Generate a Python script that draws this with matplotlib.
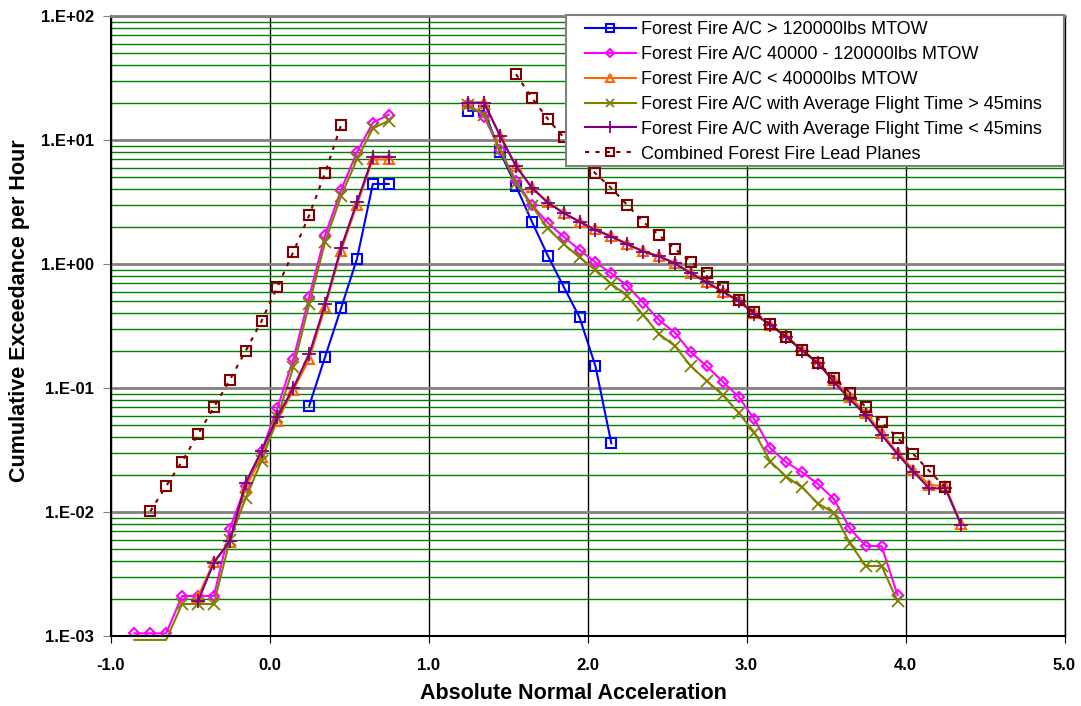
import numpy as np
import matplotlib
matplotlib.use("Agg")
import matplotlib.pyplot as plt
from matplotlib.patches import Rectangle
from matplotlib.ticker import FixedLocator, FuncFormatter, NullFormatter

plt.rcParams["font.family"] = ["Liberation Sans", "DejaVu Sans"]

nan = np.nan

# x positions of the two groups of points (bin centres)
x_left = [-0.85, -0.75, -0.65, -0.55, -0.45, -0.35, -0.25, -0.15, -0.05,
          0.05, 0.15, 0.25, 0.35, 0.45, 0.55, 0.65, 0.75]
x_right = [1.25, 1.35, 1.45, 1.55, 1.65, 1.75, 1.85, 1.95, 2.05, 2.15, 2.25,
           2.35, 2.45, 2.55, 2.65, 2.75, 2.85, 2.95, 3.05, 3.15, 3.25, 3.35,
           3.45, 3.55, 3.65, 3.75, 3.85, 3.95, 4.05, 4.15, 4.25, 4.35]

labels = [
    "Forest Fire A/C > 120000lbs MTOW",
    "Forest Fire A/C 40000 - 120000lbs MTOW",
    "Forest Fire A/C < 40000lbs MTOW",
    "Forest Fire A/C with Average Flight Time > 45mins",
    "Forest Fire A/C with Average Flight Time < 45mins",
    "Combined Forest Fire Lead Planes",
]

heavy_left = [nan] * 11 + [0.072, 0.179, 0.44, 1.10, 4.42, 4.42]
heavy_right = [17.2, 17.2, 8.0, 4.26, 2.2, 1.17, 0.656, 0.371, 0.150, 0.0358] + [nan] * 22

mid_left = [1.05e-3, 1.05e-3, 1.05e-3, 2.1e-3, 2.1e-3, 2.1e-3, 7.3e-3, 0.0162, 0.031,
            0.069, 0.171, 0.545, 1.71, 3.95, 7.96, 13.8, 16.0]
mid_right = [19.5, 15.4, 8.3, 4.7, 3.0, 2.15, 1.66, 1.30, 1.03, 0.84, 0.668, 0.488,
             0.353, 0.279, 0.194, 0.150, 0.1125, 0.0851, 0.0558, 0.0326, 0.0252,
             0.0209, 0.0168, 0.0127, 0.00738, 0.00532, 0.0053, 0.00214] + [nan] * 4

light_left = [nan] * 4 + [2.07e-3, 3.98e-3, 5.76e-3, 0.0158, 0.0279, 0.0545, 0.0964,
                          0.171, 0.453, 1.28, 3.0, 6.98, 6.98]
light_right = [20.0, 20.0, 10.8, 6.2, 4.15, 3.15, 2.6, 2.2, 1.9, 1.68, 1.46, 1.27,
               1.16, 1.02, 0.85, 0.72, 0.60, 0.51, 0.40, 0.325, 0.26, 0.202, 0.16,
               0.115, 0.085, 0.063, 0.0435, 0.030, 0.022, 0.0165, 0.0162, 0.0080]

long_left = [9.3e-4, 9.3e-4, 9.3e-4, 1.81e-3, 1.81e-3, 1.81e-3, 5.9e-3, 0.0129, 0.0258,
             0.058, 0.147, 0.475, 1.51, 3.53, 6.98, 12.4, 14.3]
long_right = [19.0, 16.0, 8.3, 4.5, 2.95, 1.94, 1.45, 1.13, 0.895, 0.69, 0.552, 0.388,
              0.272, 0.218, 0.150, 0.114, 0.0879, 0.0632, 0.0437, 0.0255, 0.0193,
              0.0158, 0.0117, 0.00986, 0.0056, 0.00367, 0.00367, 0.0019] + [nan] * 4

short_left = [nan] * 4 + [1.9e-3, 3.9e-3, 5.8e-3, 0.0172, 0.0312, 0.0587, 0.1005,
                          0.188, 0.475, 1.35, 3.15, 7.33, 7.33]
short_right = [20.0, 20.0, 10.8, 6.17, 4.12, 3.12, 2.57, 2.19, 1.88, 1.66, 1.44, 1.26,
               1.15, 1.01, 0.84, 0.71, 0.598, 0.503, 0.395, 0.322, 0.257, 0.200,
               0.158, 0.112, 0.081, 0.0605, 0.0418, 0.0292, 0.0211, 0.0155, 0.0155,
               0.00785]

lead_left = [nan, 0.0101, 0.0162, 0.0255, 0.0423, 0.0699, 0.116, 0.199, 0.347, 0.656,
             1.25, 2.48, 5.44, 13.2, nan, nan, nan]
lead_right = [nan, nan, nan, 34.0, 21.9, 14.8, 10.5, 7.5, 5.38, 4.08, 2.99, 2.19, 1.71,
              1.32, 1.04, 0.84, 0.649, 0.513, 0.408, 0.326, 0.259, 0.202, 0.158, 0.121,
              0.0917, 0.0706, 0.0529, 0.0397, 0.0292, 0.0214, 0.0158, nan]


def main():
    W, H = 1081, 706
    fig = plt.figure(figsize=(W / 100, H / 100), dpi=100)
    ax = fig.add_axes([110.5 / W, 1 - 636 / H, 954 / W, 620 / H])

    x_all = x_left + [nan] + x_right
    n_all = len(x_all)
    series = [
        (heavy_left, heavy_right, dict(color="#0000FF", marker="s", ms=7, ls="-")),
        (mid_left, mid_right, dict(color="#FF00FF", marker="D", ms=5, ls="-")),
        (light_left, light_right, dict(color="#FF6600", marker="^", ms=7, ls="-")),
        # points below the axis floor show only as a line, like the original
        (long_left, long_right, dict(color="#808000", marker="x", ms=8, ls="-", mew=1.3,
                                     markevery=list(range(3, n_all)), clip_on=False)),
        (short_left, short_right, dict(color="#800080", marker="+", ms=10, ls="-", mew=1.3)),
        (lead_left, lead_right, dict(color="#800000", marker="s", ms=7, ls=(0, (2, 3)))),
    ]
    handles = []
    for (yl, yr, st), lab in zip(series, labels):
        y_all = yl + [nan] + yr
        h, = ax.plot(x_all, y_all, label=lab, lw=1.5, mfc="none",
                     mew=st.pop("mew", 1.5), **st)
        handles.append(h)

    ax.set_yscale("log")
    ax.set_ylim(1e-3, 1e2)
    ax.set_xlim(-1.0, 5.0)

    ax.xaxis.set_major_locator(FixedLocator(np.arange(-1.0, 5.01, 1.0)))
    ax.xaxis.set_major_formatter(FuncFormatter(lambda v, p: f"{v:.1f}"))
    ax.yaxis.set_major_locator(FixedLocator([1e-3, 1e-2, 1e-1, 1e0, 1e1, 1e2]))
    ax.yaxis.set_major_formatter(
        FuncFormatter(lambda v, p: "1.E{:+03d}".format(int(round(np.log10(v))))))
    minors = [m * 10.0 ** e for e in range(-3, 2) for m in range(2, 10)]
    ax.yaxis.set_minor_locator(FixedLocator(minors))
    ax.yaxis.set_minor_formatter(NullFormatter())

    ax.grid(True, which="minor", axis="y", color="#008000", lw=1.0)
    ax.grid(True, which="major", axis="y", color="#808080", lw=2.0)
    ax.grid(True, which="major", axis="x", color="black", lw=1.0)
    ax.set_axisbelow(True)

    ax.tick_params(axis="x", which="major", direction="out", length=5,
                   color="black", labelsize=12, pad=11)
    ax.tick_params(axis="y", which="major", direction="out", length=5.5,
                   color="#808080", labelsize=12, pad=6.3)
    ax.tick_params(axis="y", which="minor", length=0)
    for lab in ax.get_xticklabels() + ax.get_yticklabels():
        lab.set_fontweight("bold")

    for side in ["left", "bottom"]:
        ax.spines[side].set_color("black")
        ax.spines[side].set_linewidth(1.5)
    ax.spines["right"].set_color("black")
    ax.spines["right"].set_linewidth(1.0)
    ax.spines["top"].set_color("#808080")
    ax.spines["top"].set_linewidth(2.0)

    ax.set_xlabel("Absolute Normal Acceleration", fontsize=15.5, fontweight="bold")
    ax.xaxis.set_label_coords((573 - 110.5) / 954, (636 - 683) / 620)
    ax.set_ylabel("Cumulative Exceedance per Hour", fontsize=15.5, fontweight="bold")
    ax.yaxis.set_label_coords((30 - 110.5) / 954, (636 - 311) / 620)

    # legend box drawn separately to match the original padding
    fig.patches.append(Rectangle((566 / W, 1 - 166 / H), 498 / W, 151 / H,
                                 transform=fig.transFigure, facecolor="white",
                                 edgecolor="#808080", lw=1.5, zorder=4))
    fig.legend(handles=handles, loc="upper left",
               bbox_to_anchor=(585 / W, 1 - 21 / H), bbox_transform=fig.transFigure,
               borderaxespad=0, borderpad=0, frameon=False, fontsize=13,
               handlelength=2.82, handletextpad=0.28, labelspacing=0.44,
               markerscale=0.8).set_zorder(5)

    fig.savefig("out.png", dpi=100)


if __name__ == "__main__":
    main()
